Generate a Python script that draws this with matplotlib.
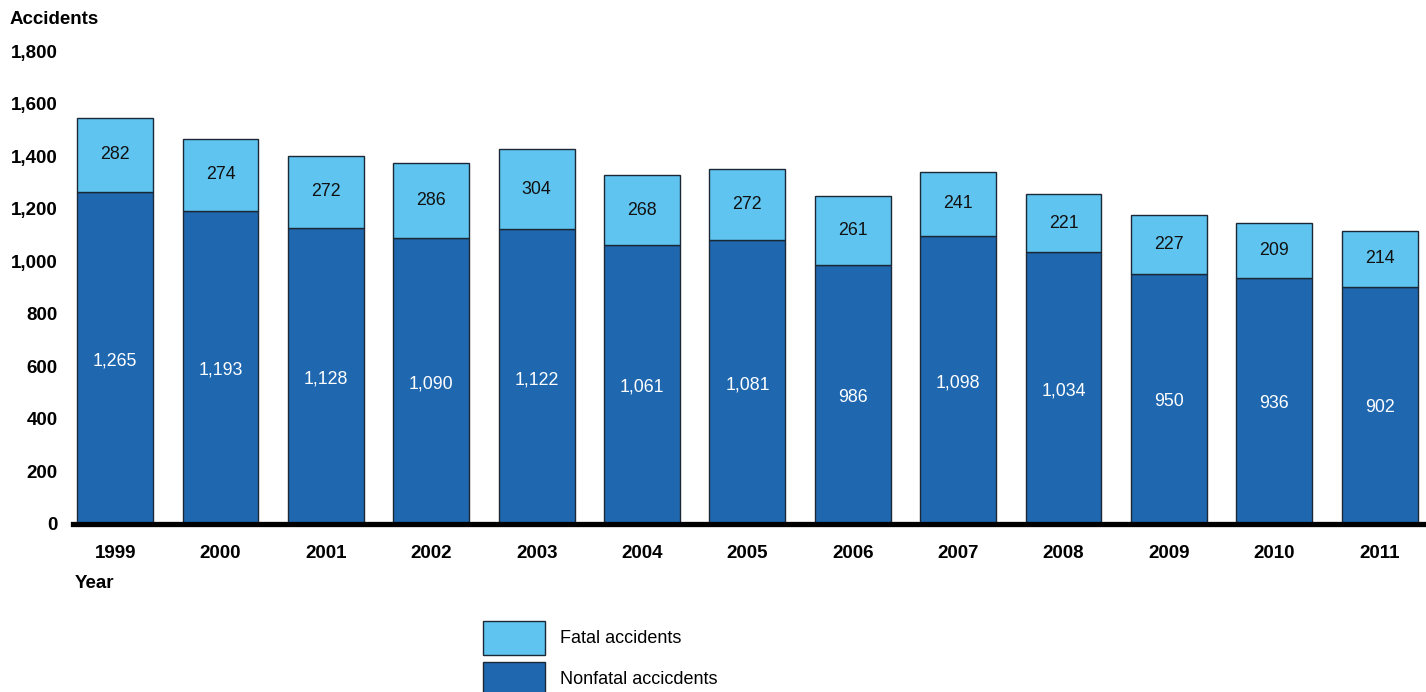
import numpy as np
import matplotlib.pyplot as plt

years = ['1999', '2000', '2001', '2002', '2003', '2004', '2005',
         '2006', '2007', '2008', '2009', '2010', '2011']
nonfatal = [1265, 1193, 1128, 1090, 1122, 1061, 1081, 986, 1098, 1034, 950, 936, 902]
fatal = [282, 274, 272, 286, 304, 268, 272, 261, 241, 221, 227, 209, 214]
yticks = [0, 200, 400, 600, 800, 1000, 1200, 1400, 1600, 1800]

light = '#5fc4f0'
dark = '#1f68b0'
edge = '#1b2836'

plt.rcParams['font.family'] = ['Liberation Sans', 'DejaVu Sans']

fig = plt.figure(figsize=(14.26, 6.92), dpi=100)
ax = fig.add_axes([0.0512, 0.2428, 0.9488, 0.6832])

x = np.arange(len(years))
b1 = ax.bar(x, nonfatal, width=0.72, color=dark, edgecolor=edge, linewidth=1,
            label='Nonfatal accicdents')
b2 = ax.bar(x, fatal, width=0.72, bottom=nonfatal, color=light, edgecolor=edge,
            linewidth=1, label='Fatal accidents')

for i in range(len(years)):
    ax.text(x[i], nonfatal[i] * 0.49, f'{nonfatal[i]:,}', ha='center', va='center',
            color='white', fontsize=12.8)
    ax.text(x[i], nonfatal[i] + fatal[i] / 2, f'{fatal[i]:,}', ha='center', va='center',
            color='#111111', fontsize=12.8)

ax.set_xlim(-0.4, 12.44)
ax.set_ylim(0, 1800)
ax.set_yticks(yticks)
ax.set_yticklabels([f'{v:,}' for v in yticks], fontweight='bold', fontsize=13.5)
ax.set_xticks(x)
ax.set_xticklabels(years, fontweight='bold', fontsize=13.5)
ax.tick_params(axis='y', length=0, pad=11)
ax.tick_params(axis='x', length=0, pad=15)
for s in ax.spines.values():
    s.set_visible(False)
ax.axhline(0, color='black', linewidth=3.8, zorder=5, clip_on=False)

fig.text(10 / 1426, 1 - 20 / 692, 'Accidents', fontweight='bold', fontsize=13.5,
         ha='left', va='center')
fig.text(75 / 1426, 1 - 584 / 692, 'Year', fontweight='bold', fontsize=13.5,
         ha='left', va='center')

fig.legend(handles=[b2, b1], loc='upper left', bbox_to_anchor=(483 / 1426, 1 - 621 / 692),
           frameon=False, fontsize=13, handlelength=3.45, handleheight=2.5,
           labelspacing=0.38, handletextpad=0.8, borderpad=0, borderaxespad=0)

fig.savefig('out.png', dpi=100)
